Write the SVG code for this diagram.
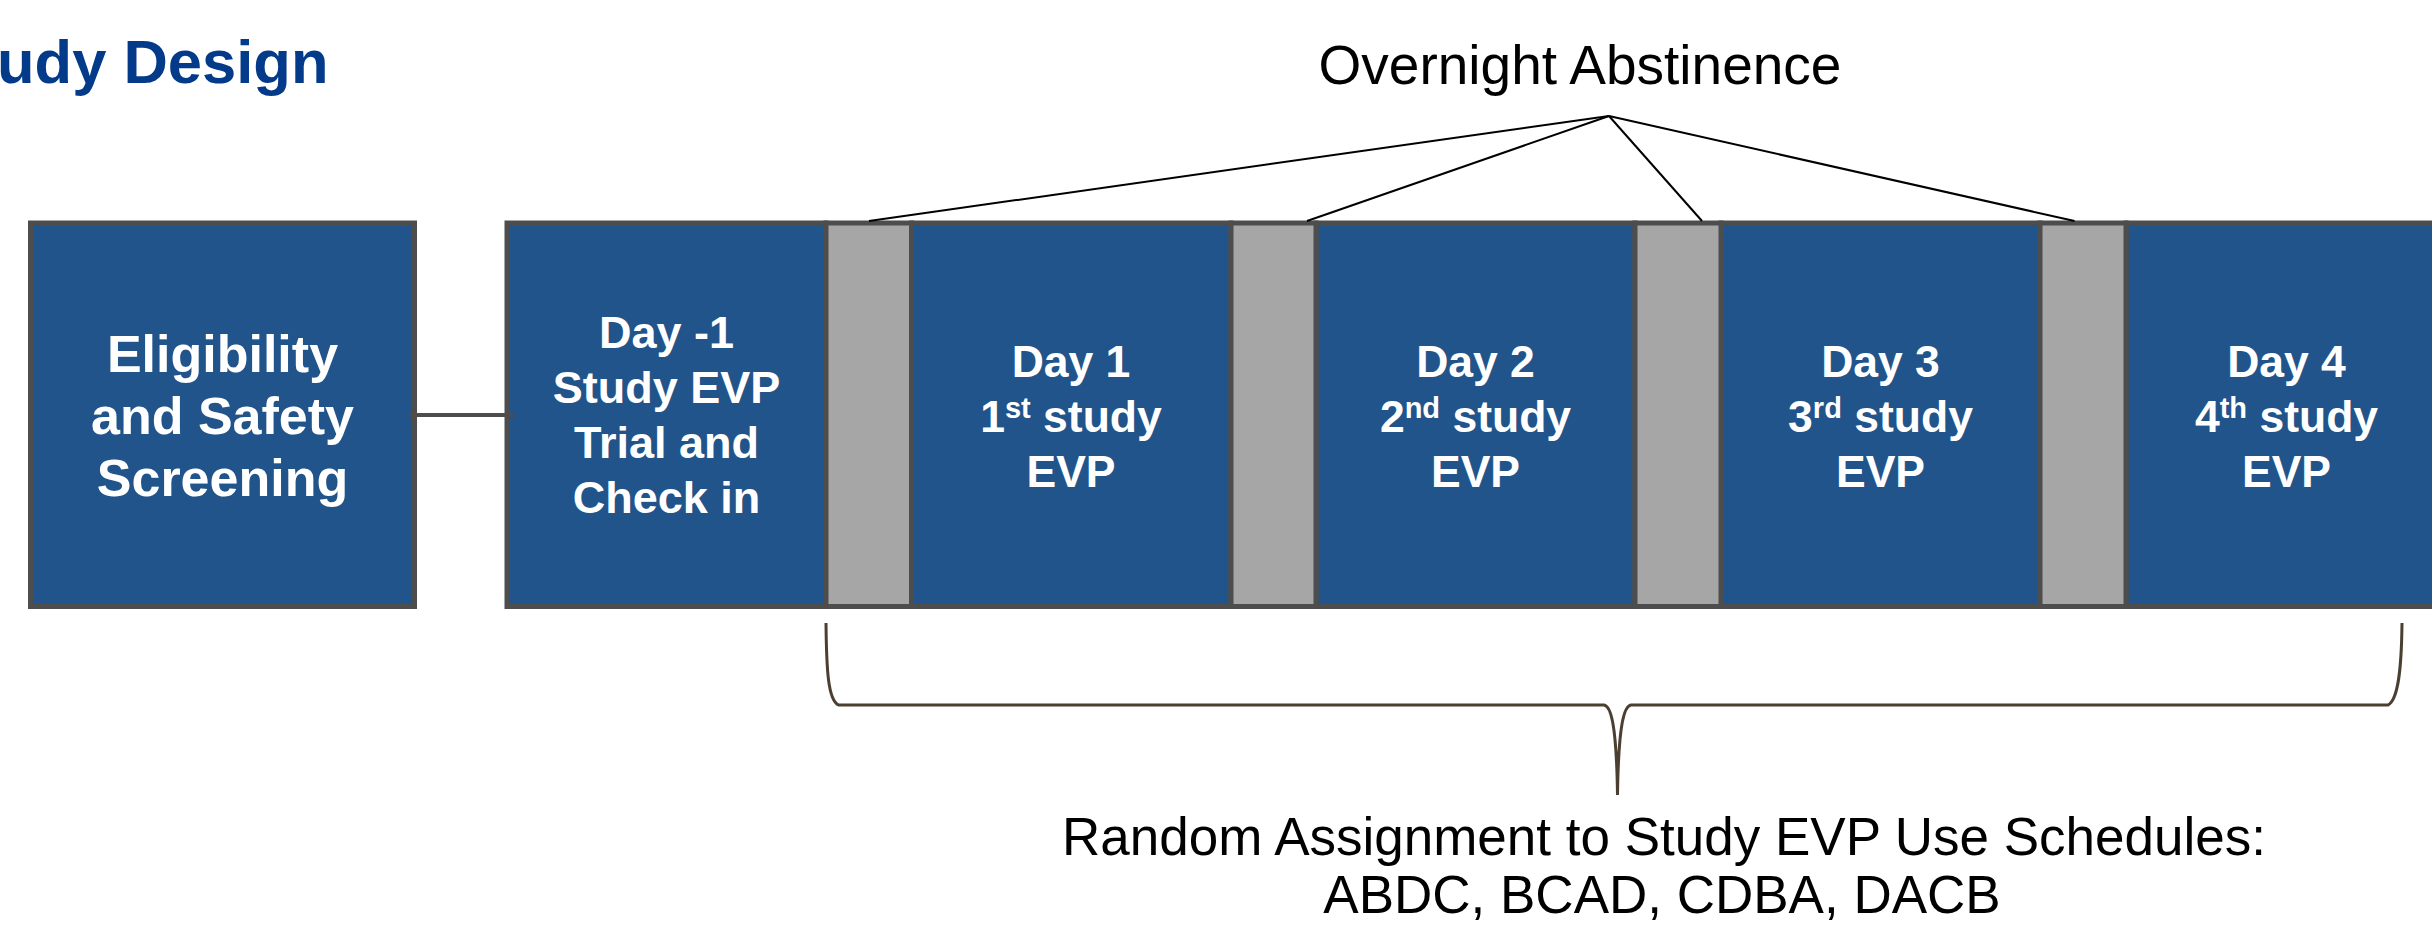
<svg xmlns="http://www.w3.org/2000/svg" width="2432" height="938" viewBox="0 0 2432 938">
<style>
.blue{fill:#21548A;stroke:#4D4D4D;stroke-width:5}
.gray{fill:#A6A6A6;stroke:#4D4D4D;stroke-width:5}
.lbl{font-family:"Liberation Sans",Arial,sans-serif;font-weight:bold;fill:#FFFFFF;text-anchor:middle}
.plain{font-family:"Liberation Sans",Arial,sans-serif;fill:#000000;text-anchor:middle}
.ab{stroke:#000000;stroke-width:2;fill:none}
</style>
<rect width="2432" height="938" fill="#FFFFFF"/>
<text id="title" x="-3" y="83" font-family="Liberation Sans, Arial, sans-serif" font-weight="bold" font-size="61.5" fill="#033A8A">udy Design</text>

<g id="screening">
<rect class="blue" x="30.5" y="223" width="384" height="383.5"/>
<text class="lbl" font-size="52"><tspan x="222.5" y="372">Eligibility</tspan><tspan x="222.5" y="434">and Safety</tspan><tspan x="222.5" y="496">Screening</tspan></text>
</g>

<g id="dayminus1">
<rect class="blue" x="507" y="223" width="319" height="383.5"/>
<text class="lbl" font-size="45"><tspan x="666.5" y="348">Day -1</tspan><tspan x="666.5" y="403">Study EVP</tspan><tspan x="666.5" y="458">Trial and</tspan><tspan x="666.5" y="513">Check in</tspan></text>
</g>

<g id="day1">
<rect class="blue" x="911.5" y="223" width="319.5" height="383.5"/>
<text class="lbl" font-size="44.5"><tspan x="1071" y="376.5">Day 1</tspan><tspan x="1071" y="431.5">1<tspan font-size="29" dy="-14">st</tspan><tspan dy="14"> study</tspan></tspan><tspan x="1071" y="486.5">EVP</tspan></text>
</g>

<g id="day2">
<rect class="blue" x="1316" y="223" width="319" height="383.5"/>
<text class="lbl" font-size="44.5"><tspan x="1475.5" y="376.5">Day 2</tspan><tspan x="1475.5" y="431.5">2<tspan font-size="29" dy="-14">nd</tspan><tspan dy="14"> study</tspan></tspan><tspan x="1475.5" y="486.5">EVP</tspan></text>
</g>

<g id="day3">
<rect class="blue" x="1721" y="223" width="319" height="383.5"/>
<text class="lbl" font-size="44.5"><tspan x="1880.5" y="376.5">Day 3</tspan><tspan x="1880.5" y="431.5">3<tspan font-size="29" dy="-14">rd</tspan><tspan dy="14"> study</tspan></tspan><tspan x="1880.5" y="486.5">EVP</tspan></text>
</g>

<g id="day4">
<rect class="blue" x="2126" y="223" width="321" height="383.5"/>
<text class="lbl" font-size="44.5"><tspan x="2286.5" y="376.5">Day 4</tspan><tspan x="2286.5" y="431.5">4<tspan font-size="29" dy="-14">th</tspan><tspan dy="14"> study</tspan></tspan><tspan x="2286.5" y="486.5">EVP</tspan></text>
</g>

<g id="abstinence1"><rect class="gray" x="826" y="223" width="85.5" height="383.5"/></g>
<g id="abstinence2"><rect class="gray" x="1231" y="223" width="85" height="383.5"/></g>
<g id="abstinence3"><rect class="gray" x="1635" y="223" width="86" height="383.5"/></g>
<g id="abstinence4"><rect class="gray" x="2040" y="223" width="86" height="383.5"/></g>

<g id="overnight-label">
<text class="plain" x="1580" y="84" font-size="55">Overnight Abstinence</text>
</g>

<g id="connectors">
<line x1="409" y1="415" x2="513" y2="415" stroke="#4D4D4D" stroke-width="4"/>
<line class="ab" x1="1609" y1="116" x2="869" y2="221"/>
<line class="ab" x1="1609" y1="116" x2="1307" y2="221"/>
<line class="ab" x1="1609" y1="116" x2="1702" y2="221"/>
<line class="ab" x1="1609" y1="116" x2="2074.5" y2="221"/>
<path d="M826 623 C826.5 670 828 700 838.5 705 L1604 705 C1611 706 1616.5 725 1617.5 795 C1618.5 725 1624 706 1631 705 L2388 705 C2398 700 2401.5 670 2402 623" fill="none" stroke="#4B3F31" stroke-width="3"/>
</g>

<g id="assignment-label">
<text class="plain" font-size="53"><tspan x="1664" y="855">Random Assignment to Study EVP Use Schedules:</tspan><tspan x="1662" y="913">ABDC, BCAD, CDBA, DACB</tspan></text>
</g>
</svg>
